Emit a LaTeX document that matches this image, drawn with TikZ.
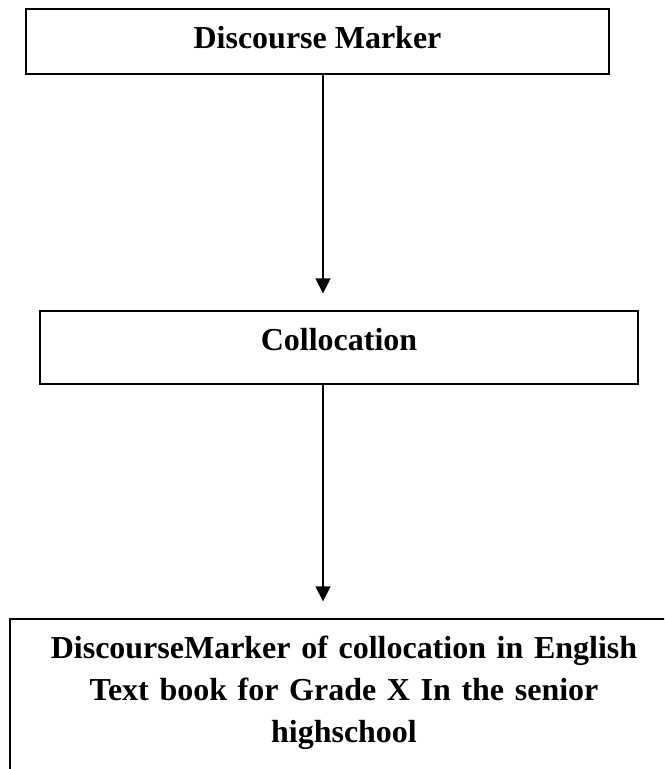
\documentclass[tikz,border=0pt]{standalone}
\usepackage{fontspec}
\setmainfont{Liberation Serif}
\usetikzlibrary{arrows.meta}

\begin{document}
\begin{tikzpicture}[
    >={Triangle[width=0.45cm, length=0.45cm]},
    box/.style={draw, line width=0.05cm, anchor=north, inner xsep=0.2cm, inner ysep=0.51cm,
        text height=0.69cm, font=\fontsize{27.3}{35.9}\selectfont\bfseries},
    arrow/.style={->, line width=0.05cm, shorten >=0.5cm}
]
\useasboundingbox (0,0) rectangle (19.92,23.07);
\clip (0,0) rectangle (19.92,23.07);

% Eje de las flechas
\coordinate (axis) at (9.69,0);

% Cajas
\node[box, minimum width=17.49cm, text depth=0.24cm] (marker) at (9.525,22.83) {Discourse Marker};
\node[box, minimum width=17.94cm, text depth=0.48cm] (colloc) at (10.17,13.77) {Collocation};
\node[box, text width=19.64cm, align=center, text depth=5cm] (result) at (10.32,4.53)
    {DiscourseMarker of collocation in English\\ Text book for Grade X In the senior\\ highschool};

% Flechas
\draw[arrow] (marker.south -| axis) -- (colloc.north -| axis);
\draw[arrow] (colloc.south -| axis) -- (result.north -| axis);

\end{tikzpicture}
\end{document}
